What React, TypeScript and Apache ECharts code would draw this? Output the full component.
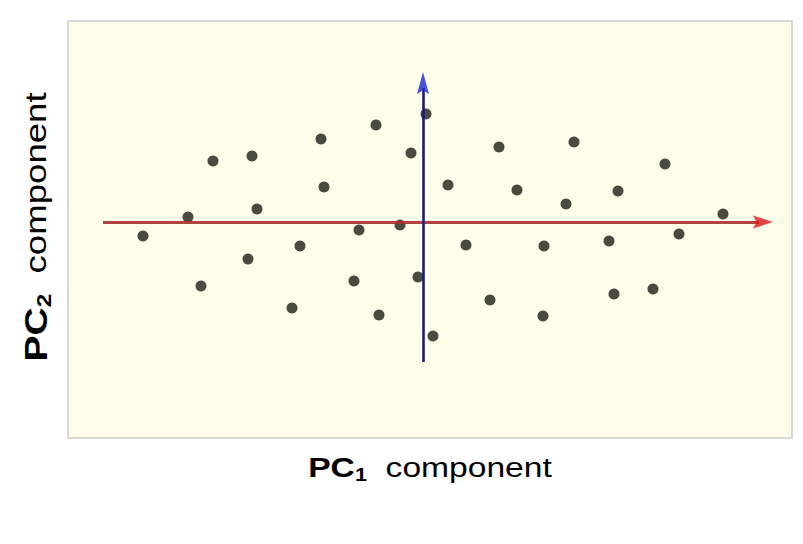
import React, { useEffect, useRef } from "react";
import * as echarts from "echarts";

// Scores on the first two principal components (PC1 horizontal, PC2 vertical)
const pc1 = [
  -28.0, -23.5, -21.0, -17.1, -16.6, -17.5, -22.2, -12.3, -13.1, -10.2, -9.9, -4.7,
  -6.4, -6.9, -4.4, -2.3, -1.2, 0.3, -0.5, 1.0, 2.5, 4.3, 7.6, 6.7,
  9.4, 12.1, 12.0, 15.1, 14.3, 19.5, 18.6, 19.1, 23.0, 24.2, 25.6, 30.0,
];
const pc2 = [
  -1.4, 0.5, 6.1, 6.6, 1.3, -3.7, -6.4, -2.4, -8.6, 8.3, 3.5, 9.7,
  -0.8, -5.9, -9.3, -0.3, 6.9, 10.8, -5.5, -11.4, 3.7, -2.3, 7.5, -7.8,
  3.2, -2.4, -9.4, 8.0, 1.8, 3.1, -1.9, -7.2, -6.7, 5.8, -1.2, 0.8,
];

// Principal axis arrows (start, end of shaft, arrowhead centre)
const pc1Arrow = [-32.0, 33.6, 34.0];
const pc2Arrow = [-14.0, 13.4, 13.9];

// Visible data window
const xRange = [-35.5, 36.9];
const yRange = [-21.6, 20.1];

const xLabel = ["PC", "1", "component"];
const yLabel = ["PC", "2", "component"];

const ARROW_HEAD = "path://M5 0 L10 20 L5 16.5 L0 20 Z";

export default function App() {
  const ref = useRef<HTMLDivElement>(null);

  useEffect(() => {
    if (!ref.current) return;
    const chart = echarts.init(ref.current, null, { renderer: "svg" });
    const points = pc1.map((x, i) => [x, pc2[i]]);
    const font = "'Liberation Sans', Arial, Helvetica, sans-serif";

    chart.setOption({
      animation: false,
      backgroundColor: "#ffffff",
      grid: {
        left: 68,
        right: 11,
        top: 21,
        bottom: 106,
        show: true,
        backgroundColor: "#fdfdea",
        borderColor: "#d8d8d4",
        borderWidth: 2,
      },
      xAxis: {
        type: "value",
        min: xRange[0],
        max: xRange[1],
        show: false,
      },
      yAxis: {
        type: "value",
        min: yRange[0],
        max: yRange[1],
        show: false,
      },
      series: [
        {
          type: "scatter",
          data: points,
          symbol: "circle",
          symbolSize: 11,
          itemStyle: { color: "#1c1e16" },
          z: 2,
        },
        {
          type: "lines",
          coordinateSystem: "cartesian2d",
          polyline: false,
          symbol: ["none", "none"],
          data: [{ coords: [[pc1Arrow[0], 0], [pc1Arrow[1], 0]] }],
          lineStyle: { color: "#a8302c", width: 2.8, opacity: 0.9 },
          z: 3,
        },
        {
          type: "lines",
          coordinateSystem: "cartesian2d",
          polyline: false,
          symbol: ["none", "none"],
          data: [{ coords: [[0, pc2Arrow[0]], [0, pc2Arrow[1]]] }],
          lineStyle: { color: "#1c1c7c", width: 2.6, opacity: 1 },
          z: 4,
        },
        {
          type: "scatter",
          data: [[pc1Arrow[2], 0]],
          symbol: ARROW_HEAD,
          symbolSize: [13, 20],
          symbolRotate: -90,
          itemStyle: { color: "#e0161a" },
          z: 5,
        },
        {
          type: "scatter",
          data: [[0, pc2Arrow[2]]],
          symbol: ARROW_HEAD,
          symbolSize: [12, 22],
          symbolRotate: 0,
          itemStyle: { color: "#1a28d6" },
          z: 5,
        },
      ],
      graphic: [
        {
          type: "text",
          x: 430,
          y: 467,
          scaleX: 1.2,
          style: {
            text: `{p|${xLabel[0]}}{s|${xLabel[1]}}{c|  ${xLabel[2]}}`,
            align: "center",
            verticalAlign: "middle",
            rich: {
              p: { fontFamily: font, fontSize: 28, fontWeight: "bold", color: "#111111", lineHeight: 34 },
              s: { fontFamily: font, fontSize: 18, fontWeight: "bold", color: "#111111", lineHeight: 18, verticalAlign: "bottom" },
              c: { fontFamily: font, fontSize: 28, color: "#222222", lineHeight: 34 },
            },
          },
        },
        {
          type: "text",
          x: 36,
          y: 227,
          rotation: Math.PI / 2,
          scaleX: 1.22,
          style: {
            text: `{p|${yLabel[0]}}{s|${yLabel[1]}}{c|  ${yLabel[2]}}`,
            align: "center",
            verticalAlign: "middle",
            rich: {
              p: { fontFamily: font, fontSize: 32, fontWeight: "bold", color: "#111111", lineHeight: 36 },
              s: { fontFamily: font, fontSize: 20, fontWeight: "bold", color: "#111111", lineHeight: 20, verticalAlign: "bottom" },
              c: { fontFamily: font, fontSize: 30, color: "#222222", lineHeight: 36 },
            },
          },
        },
      ],
    });

    return () => chart.dispose();
  }, []);

  return (
    <div
      ref={ref}
      style={{ position: "absolute", left: 0, top: 0, width: 803, height: 544 }}
    />
  );
}
